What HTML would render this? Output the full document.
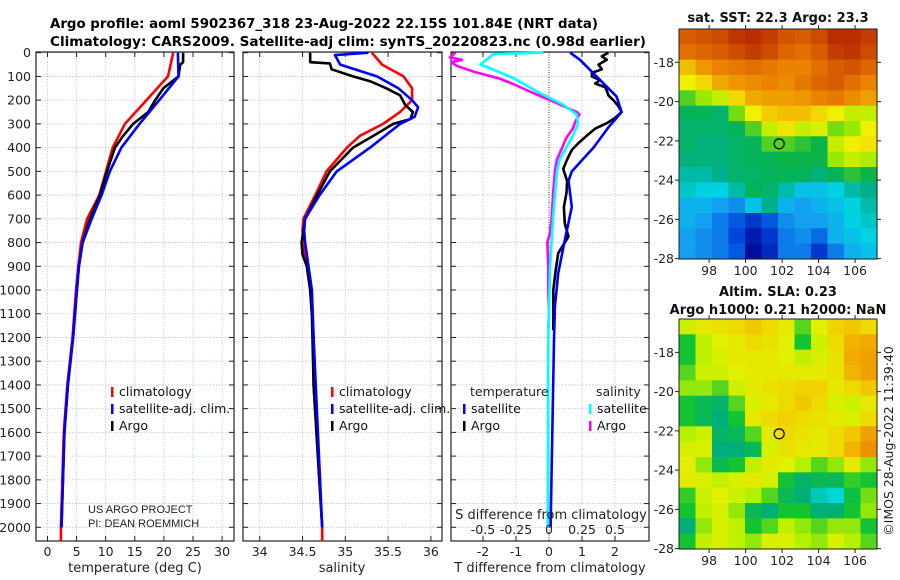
<!DOCTYPE html>
<html><head><meta charset="utf-8"><style>
html,body{margin:0;padding:0;background:#fff;}
svg{display:block;font-family:"DejaVu Sans","Liberation Sans",sans-serif;}
</style></head><body>
<svg id="fig" width="900" height="580" viewBox="0 0 900 580" xmlns="http://www.w3.org/2000/svg">
<text x="50" y="28" font-size="13" font-weight="bold" textLength="548" lengthAdjust="spacingAndGlyphs">Argo profile: aoml 5902367_318 23-Aug-2022 22.15S 101.84E (NRT data)</text>
<text x="50" y="46" font-size="13" font-weight="bold" textLength="596" lengthAdjust="spacingAndGlyphs">Climatology: CARS2009. Satellite-adj clim: synTS_20220823.nc (0.98d earlier)</text>
<g id="layer"></g>
</svg>
<script>
// ---------- Data ----------
const tempClimP = [0,100,200,300,400,500,600,700,800,900,1000,1200,1400,1600,2000,2060];
const tempClimV = [21.6,20.7,17.0,13.3,11.2,10.05,8.9,6.8,5.75,5.3,4.9,4.3,3.4,2.8,2.3,2.3];
const tempArgoP = [0,40,50,100,150,200,250,300,350,400,500,600,700,800,900,1000,1200,1400,1600,2000];
const tempArgoV = [23.3,23.3,22.8,22.5,19.9,18.5,17.3,14.7,13.0,11.6,10.2,9.0,7.3,6.0,5.4,5.05,4.4,3.5,2.9,2.4];
const tempSatP = [0,100,200,300,400,500,600,700,800,900,1000,1200,1400,1600,2000];
const tempSatV = [22.4,22.5,19.2,15.8,12.7,10.7,9.3,7.6,6.05,5.4,5.05,4.4,3.5,2.9,2.4];

const salClimP = [0,50,100,150,200,250,300,350,400,500,600,700,750,800,900,1000,1200,1400,2000,2060];
const salClimV = [35.31,35.43,35.68,35.78,35.78,35.64,35.44,35.17,35.02,34.78,34.65,34.51,34.50,34.51,34.55,34.59,34.63,34.63,34.73,34.73];
const salSatP = [0,10,50,100,150,200,230,270,300,400,500,600,700,750,800,900,1000,1200,2000];
const salSatV = [35.27,34.88,34.94,35.37,35.62,35.78,35.85,35.81,35.64,35.29,34.90,34.70,34.53,34.52,34.53,34.57,34.61,34.63,34.73];
const salArgoP = [0,40,45,70,100,120,150,180,220,250,280,300,350,400,500,600,700,800,850,900,1000,1100,1400,2000];
const salArgoV = [34.59,34.59,34.82,34.84,35.09,35.29,35.48,35.64,35.70,35.79,35.76,35.56,35.33,35.09,34.82,34.67,34.53,34.49,34.50,34.55,34.59,34.61,34.63,34.73];

const dTSatP = [0,30,100,185,250,315,400,500,540,650,790,930,1070,1210,2000];
const dTSatV = [0.64,0.94,1.44,2.05,2.2,1.8,1.35,0.69,0.59,0.69,0.48,0.28,0.18,0.15,0.05];
const dTArgoP = [0,15,30,50,70,85,100,115,130,145,160,180,200,225,250,275,297,320,350,380,410,450,490,540,590,650,720,775,845,920,1000,1170];
const dTArgoV = [1.8,1.6,1.75,1.5,1.6,1.3,1.3,1.55,1.4,1.7,1.75,1.8,1.95,2.1,2.2,2.0,1.75,1.4,1.14,0.9,0.69,0.55,0.43,0.55,0.53,0.45,0.48,0.59,0.28,0.2,0.13,0.13];
const dSSatP = [0,5,50,60,110,170,220,260,300,350,400,450,500,600,700,900,1200,2000];
const dSSatV = [-0.043,-0.42,-0.52,-0.47,-0.26,-0.07,0.11,0.21,0.22,0.18,0.13,0.08,0.06,0.045,0.03,0.008,-0.005,-0.01];
const dSArgoP = [0,20,30,40,55,80,110,130,170,200,230,250,260,290,320,360,400,450,500,600,700,760,800,900,1000,1100,1160];
const dSArgoV = [-0.71,-0.75,-0.66,-0.74,-0.70,-0.57,-0.37,-0.28,-0.12,0.01,0.13,0.21,0.23,0.20,0.18,0.13,0.10,0.06,0.045,0.03,0.02,0.008,-0.013,-0.005,-0.005,0,-0.005];

const pressureTicks = [0,100,200,300,400,500,600,700,800,900,1000,1100,1200,1300,1400,1500,1600,1700,1800,1900,2000];
const tempTicks = [0,5,10,15,20,25,30];
const salTicks = [34,34.5,35,35.5,36];
const dTTicks = [-2,-1,0,1,2];
const dSTicks = [-0.5,-0.25,0,0.25,0.5];
const dSTickLabels = ["-0.5","-0.25","0","0.25","0.5"];

// SST map grid (rows north->south, cols west->east), deg C
const sstGrid = [
[24.2,24.3,24.4,24.7,24.8,24.6,24.3,24.2,24.4,24.8,24.9,24.6],
[24.0,24.1,24.2,24.4,24.6,24.4,24.1,24.0,24.2,24.6,24.7,24.4],
[23.2,23.6,23.8,23.9,24.0,23.9,23.8,23.8,24.0,24.2,24.3,24.1],
[22.8,23.0,23.4,23.6,23.7,23.8,23.7,23.9,24.1,24.2,24.0,23.8],
[22.2,22.4,22.6,23.0,23.4,23.5,23.5,23.6,23.8,23.9,23.7,23.5],
[21.9,21.9,21.8,22.3,22.8,23.1,23.2,23.2,23.0,22.8,22.6,22.6],
[21.8,21.8,21.8,21.9,22.2,22.6,22.9,22.6,22.7,22.3,22.4,22.8],
[21.8,21.7,21.7,21.8,21.9,22.2,22.2,22.1,22.0,22.6,22.8,22.9],
[21.7,21.7,21.7,21.8,21.9,21.9,22.0,22.0,22.0,22.4,22.6,22.5],
[21.5,21.5,21.6,21.8,21.8,21.9,21.9,21.9,21.7,21.9,22.1,22.0],
[21.4,21.3,21.3,21.5,21.9,21.8,21.5,21.2,21.2,21.3,21.5,21.6],
[21.1,21.1,21.0,20.9,21.2,21.6,21.1,21.0,21.1,21.2,21.3,21.5],
[21.1,21.0,20.8,20.6,20.4,20.6,20.9,21.0,21.0,21.1,21.3,21.4],
[21.0,20.9,20.8,20.5,20.2,20.4,20.8,20.9,20.7,21.1,21.2,21.3],
[21.0,20.9,20.8,20.6,20.1,20.3,20.8,20.8,20.4,20.8,21.1,21.2]];
const slaGrid = [
[.17,.20,.21,.22,.24,.22,.20,.12,.19,.23,.24,.22],
[.10,.16,.19,.20,.22,.21,.19,.10,.17,.22,.26,.27],
[.10,.16,.18,.20,.20,.20,.19,.16,.18,.21,.27,.28],
[.12,.17,.17,.19,.20,.20,.20,.20,.20,.21,.26,.28],
[.14,.14,.12,.17,.20,.21,.22,.23,.23,.20,.22,.24],
[.10,.08,.07,.12,.18,.20,.22,.24,.22,.18,.17,.20],
[.10,.08,.06,.10,.20,.22,.23,.22,.21,.20,.18,.22],
[.15,.17,.07,.08,.12,.20,.22,.21,.20,.22,.24,.28],
[.18,.18,.06,.06,.08,.18,.21,.20,.20,.22,.26,.30],
[.19,.14,.08,.10,.16,.20,.19,.15,.12,.14,.20,.14],
[.20,.18,.16,.18,.20,.18,.10,.07,.08,.08,.11,.10],
[.11,.17,.19,.17,.15,.12,.08,.06,.04,.03,.09,.13],
[.10,.16,.18,.14,.08,.06,.10,.10,.06,.06,.10,.14],
[.06,.14,.18,.16,.10,.12,.16,.14,.12,.14,.14,.10],
[.10,.16,.18,.16,.14,.18,.18,.15,.14,.18,.15,.12]];
const lonTicks = [98,100,102,104,106];
const latTicks = [-18,-20,-22,-24,-26,-28];
const floatLon = 101.84, floatLat = -22.15;

// ---------- Helpers ----------
const NS = "http://www.w3.org/2000/svg";
const layer = document.getElementById('layer');
function mk(tag, attrs, parent){
  const e = document.createElementNS(NS, tag);
  for (const k in attrs) e.setAttribute(k, attrs[k]);
  (parent||layer).appendChild(e);
  return e;
}
const yP = p => 52.7 + p * 0.2373;
const PT = 52, PB = 541;
const xTemp = t => 47.5 + t * 5.82;
const xSal = s => 259.7 + (s - 34) * 85.6;
const xDT = d => 549 + d * 33;
const xDS = d => 549 + d * 132;

function frame(x0, x1, name, grid, xf){
  const g = mk('g', {});
  
  
  grid.forEach(v => {
    const l = mk('line', {x1:xf(v), x2:xf(v), y1:PT, y2:PB, stroke:'#b8c4e8', 'stroke-width':0.8, 'stroke-dasharray':'1.5,1.5'}, g);
    
    
  });
  pressureTicks.forEach(p => {
    const l = mk('line', {x1:x0, x2:x1, y1:yP(p), y2:yP(p), stroke:'#b8c4e8', 'stroke-width':0.8, 'stroke-dasharray':'1.5,1.5'}, g);
    
    
    mk('line', {x1:x0, x2:x0+5, y1:yP(p), y2:yP(p), stroke:'#222', 'stroke-width':1}, g);
    mk('line', {x1:x1-5, x2:x1, y1:yP(p), y2:yP(p), stroke:'#222', 'stroke-width':1}, g);
  });
  grid.forEach(v => {
    mk('line', {x1:xf(v), x2:xf(v), y1:PB-5, y2:PB, stroke:'#222', 'stroke-width':1}, g);
    mk('line', {x1:xf(v), x2:xf(v), y1:PT, y2:PT+5, stroke:'#222', 'stroke-width':1}, g);
  });
  const r = mk('rect', {x:x0, y:PT, width:x1-x0, height:PB-PT, fill:'none', stroke:'#222', 'stroke-width':1.2}, g);
  
  
  return g;
}
function line(P, V, xf, color, name, w){
  const d = P.map((p,i) => (i?'L':'M') + xf(V[i]).toFixed(1) + ',' + yP(p).toFixed(1)).join('');
  const e = mk('path', {d:d, fill:'none', stroke:color, 'stroke-width':w||2.6, 'stroke-linejoin':'round'});
  
  
}
function text(x, y, s, name, attrs){
  const e = mk('text', Object.assign({x:x, y:y, 'font-size':12.5, fill:'#222'}, attrs||{}));
  e.textContent = s;
  
  
  return e;
}
function legendEntry(x, y, color, label){
  const g = mk('g', {});
  
  
  mk('rect', {x:x, y:y-9, width:2.5, height:10, fill:color}, g);
  const t = mk('text', {x:x+8, y:y, 'font-size':12.5, fill:'#111'}, g);
  t.textContent = label;
}

// ---------- Panel 1: temperature ----------
frame(36, 234, 'temperature-panel', tempTicks, xTemp);
pressureTicks.forEach(p => text(31, yP(p)+4.5, String(p), 'y-tick-label', {'text-anchor':'end'}));
tempTicks.forEach(t => text(xTemp(t), 556, String(t), 'x-tick-label', {'text-anchor':'middle'}));
text(135, 572, 'temperature (deg C)', 'x-axis-title', {'text-anchor':'middle', 'font-size':13});
line(tempClimP, tempClimV, xTemp, '#ff0000', 'temperature-climatology-line');
line(tempArgoP, tempArgoV, xTemp, '#000000', 'temperature-argo-line');
line(tempSatP, tempSatV, xTemp, '#0000ff', 'temperature-satellite-line');
legendEntry(111, 396, '#ff0000', 'climatology');
legendEntry(111, 413, '#0000ff', 'satellite-adj. clim.');
legendEntry(111, 430, '#000000', 'Argo');
text(88, 513, 'US ARGO PROJECT', 'project-credit', {'font-size':11, 'font-family':'Liberation Sans Narrow, Liberation Sans, sans-serif'});
text(88, 527, 'PI: DEAN ROEMMICH', 'pi-credit', {'font-size':11, 'font-family':'Liberation Sans Narrow, Liberation Sans, sans-serif'});

// ---------- Panel 2: salinity ----------
frame(243, 442, 'salinity-panel', salTicks, xSal);
salTicks.forEach(s => text(xSal(s), 556, String(s), 'x-tick-label', {'text-anchor':'middle'}));
text(342, 572, 'salinity', 'x-axis-title', {'text-anchor':'middle', 'font-size':13});
line(salClimP, salClimV, xSal, '#ff0000', 'salinity-climatology-line');
line(salArgoP, salArgoV, xSal, '#000000', 'salinity-argo-line');
line(salSatP, salSatV, xSal, '#0000ff', 'salinity-satellite-line');
legendEntry(331, 396, '#ff0000', 'climatology');
legendEntry(331, 413, '#0000ff', 'satellite-adj. clim.');
legendEntry(331, 430, '#000000', 'Argo');

// ---------- Panel 3: differences ----------
frame(451, 649, 'difference-panel', dTTicks.filter(v=>v!==0), xDT);
const zl = mk('line', {x1:549, x2:549, y1:PT, y2:PB, stroke:'#334', 'stroke-width':1, 'stroke-dasharray':'1,1.5'});


dTTicks.forEach(t => text(xDT(t), 556, String(t), 'x-tick-label', {'text-anchor':'middle'}));
text(550, 572, 'T difference from climatology', 'x-axis-title', {'text-anchor':'middle', 'font-size':13});
line(dSArgoP, dSArgoV, xDS, '#ff00ff', 'salinity-diff-argo-line');
line(dSSatP, dSSatV, xDS, '#00ffff', 'salinity-diff-satellite-line');
line(dTArgoP, dTArgoV, xDT, '#000000', 'temperature-diff-argo-line');
line(dTSatP, dTSatV, xDT, '#0000ff', 'temperature-diff-satellite-line');
text(551, 519, 'S difference from climatology', 'secondary-x-axis-title', {'text-anchor':'middle', 'font-size':13});
dSTicks.forEach((s,i) => text(xDS(s), 534, dSTickLabels[i], 'secondary-x-tick-label', {'text-anchor':'middle'}));
text(470, 396, 'temperature', 'legend-header-temperature');
text(596, 396, 'salinity', 'legend-header-salinity');
legendEntry(463, 413, '#0000ff', 'satellite');
legendEntry(463, 430, '#000000', 'Argo');
legendEntry(589, 413, '#00ffff', 'satellite');
legendEntry(589, 430, '#ff00ff', 'Argo');

// ---------- Maps ----------
const MX0 = 679, MX1 = 877;
const lonW = 96.35, lonE = 107.2;
const xLon = lo => MX0 + (lo - lonW) / (lonE - lonW) * (MX1 - MX0);
function rgb(c){ return 'rgb(' + c.join(',') + ')'; }
function lerpColor(stops, v){
  if (v <= stops[0][0]) return rgb(stops[0][1]);
  for (let i=1;i<stops.length;i++){
    if (v <= stops[i][0]){
      const a = stops[i-1], b = stops[i];
      const f = (v - a[0]) / (b[0] - a[0]);
      return rgb([0,1,2].map(k => Math.round(a[1][k] + (b[1][k]-a[1][k])*f)));
    }
  }
  return rgb(stops[stops.length-1][1]);
}
const sstStops = [[20.0,[0,0,140]],[20.5,[0,70,220]],[21.0,[20,160,240]],[21.3,[0,210,225]],[21.6,[0,175,140]],[22.0,[10,180,70]],[22.4,[150,235,0]],[22.8,[240,240,0]],[23.3,[240,180,0]],[23.8,[235,130,0]],[24.3,[210,85,0]],[24.8,[185,45,0]]];
const slaStops = [[0.03,[0,215,215]],[0.06,[0,175,120]],[0.10,[20,195,50]],[0.15,[180,240,0]],[0.19,[225,240,0]],[0.23,[240,210,0]],[0.28,[240,160,0]],[0.32,[235,130,0]]];

function drawMap(grid, stops, MY0, MY1, latN, name){
  const g = mk('g', {});
  
  
  const latS = -28.02;
  const yLat = la => MY0 + (latN - la) / (latN - latS) * (MY1 - MY0);
  const rows = grid.length, cols = grid[0].length;
  const cw = (MX1-MX0)/cols, ch = (MY1-MY0)/rows;
  grid.forEach((row, r) => row.forEach((v, c) => {
    const cell = mk('rect', {x:(MX0 + c*cw).toFixed(2), y:(MY0 + r*ch).toFixed(2), width:(cw+0.6).toFixed(2), height:(ch+0.6).toFixed(2), fill:lerpColor(stops, v)}, g);
    
    
  }));
  mk('rect', {x:MX0, y:MY0, width:MX1-MX0, height:MY1-MY0, fill:'none', stroke:'#222', 'stroke-width':1}, g);
  lonTicks.forEach(lo => {
    mk('line', {x1:xLon(lo), x2:xLon(lo), y1:MY1, y2:MY1+4, stroke:'#222'}, g);
    mk('line', {x1:xLon(lo), x2:xLon(lo), y1:MY0-4, y2:MY0, stroke:'#222'}, g);
    text(xLon(lo), MY1+16, String(lo), 'map-lon-label', {'text-anchor':'middle'});
  });
  latTicks.forEach(la => {
    mk('line', {x1:MX0-4, x2:MX0, y1:yLat(la), y2:yLat(la), stroke:'#222'}, g);
    mk('line', {x1:MX1, x2:MX1+4, y1:yLat(la), y2:yLat(la), stroke:'#222'}, g);
    text(MX0-5, yLat(la)+4.5, String(la), 'map-lat-label', {'text-anchor':'end'});
  });
  const m = mk('circle', {cx:xLon(floatLon), cy:yLat(floatLat), r:5, fill:'none', stroke:'#111', 'stroke-width':1.3}, g);
  
  
}
drawMap(sstGrid, sstStops, 29, 259, -16.3, 'sst-map');
text(778, 22, 'sat. SST: 22.3 Argo: 23.3', 'sst-map-title', {'text-anchor':'middle', 'font-weight':'bold', 'font-size':13, fill:'#111'});
drawMap(slaGrid, slaStops, 319, 549, -16.3, 'sla-map');
text(778, 296, 'Altim. SLA: 0.23', 'sla-map-title', {'text-anchor':'middle', 'font-weight':'bold', 'font-size':13, fill:'#111'});
text(778, 314, 'Argo h1000: 0.21 h2000: NaN', 'sla-map-subtitle', {'text-anchor':'middle', 'font-weight':'bold', 'font-size':13, fill:'#111'});
text(0, 0, '©IMOS 28-Aug-2022 11:39:40', 'copyright-timestamp', {'text-anchor':'middle', 'font-size':12.5, transform:'translate(893,441) rotate(-90)'});
</script>
</body></html>
